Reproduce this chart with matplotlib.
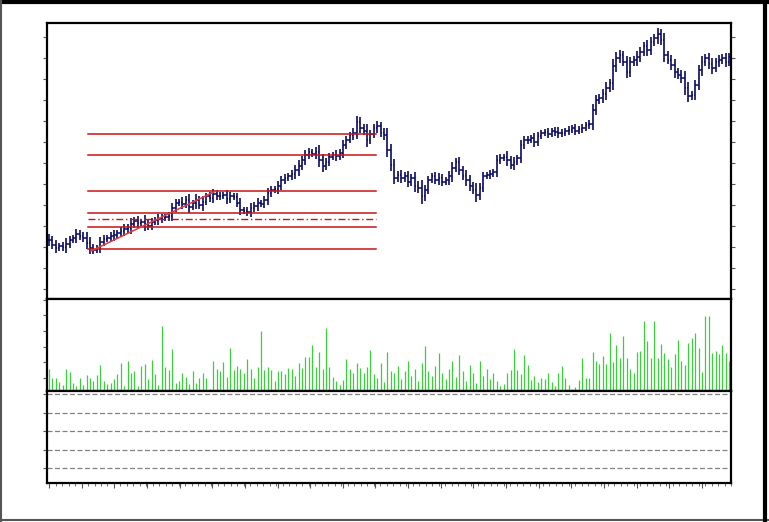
import matplotlib
matplotlib.use('Agg')
import matplotlib.pyplot as plt
from matplotlib.lines import Line2D
import numpy as np

# closing prices (one per trading day)
closes = [70, 65, 62, 64, 63, 66, 70, 72, 76, 74,
          72, 67, 62, 60, 62, 68, 71, 72, 74, 75,
          77, 79, 81, 82, 86, 89, 87, 88, 86, 84,
          88, 90, 91, 92, 93, 94, 102, 107, 108, 106,
          110, 103, 107, 110, 105, 108, 114, 112, 116, 114,
          114, 115, 111, 114, 113, 107, 100, 99, 98, 102,
          104, 107, 106, 110, 117, 120, 121, 124, 130, 132,
          134, 136, 140, 144, 150, 155, 158, 156, 158, 150,
          144, 148, 153, 155, 154, 157, 165, 170, 175, 177,
          188, 182, 179, 170, 176, 182, 184, 177, 175, 160,
          145, 132, 135, 132, 134, 128, 132, 124, 122, 114,
          120, 130, 134, 130, 132, 128, 130, 134, 142, 148,
          140, 134, 130, 124, 120, 115, 122, 134, 135, 136,
          138, 150, 152, 153, 150, 145, 148, 152, 165, 170,
          170, 172, 168, 174, 177, 178, 176, 179, 178, 177,
          177, 179, 180, 182, 179, 181, 182, 185, 186, 200,
          210, 212, 216, 222, 227, 244, 252, 255, 248, 238,
          248, 250, 253, 258, 264, 260, 268, 272, 276, 270,
          255, 250, 245, 238, 235, 232, 222, 214, 215, 225,
          240, 248, 252, 246, 242, 248, 250, 252, 248, 253]

# extra range of each bar beyond open/close
wicks = [6, 4, 5, 3, 4, 6, 4, 3, 5, 4,
         4, 6, 6, 4, 3, 5, 4, 3, 4, 5,
         3, 4, 5, 4, 6, 4, 5, 3, 7, 4,
         4, 3, 5, 4, 3, 4, 5, 4, 3, 5,
         4, 6, 3, 6, 4, 6, 3, 4, 5, 4,
         4, 3, 5, 4, 3, 4, 5, 3, 4, 5,
         4, 5, 3, 4, 5, 4, 3, 5, 4, 4,
         3, 4, 5, 6, 4, 5, 4, 3, 5, 7,
         6, 4, 4, 3, 5, 4, 5, 4, 3, 5,
         6, 5, 4, 7, 4, 4, 5, 4, 5, 7,
         6, 6, 4, 5, 4, 5, 4, 6, 5, 8,
         5, 4, 3, 4, 5, 4, 3, 5, 6, 4,
         5, 4, 6, 5, 4, 7, 5, 4, 3, 4,
         3, 5, 4, 3, 6, 4, 5, 3, 5, 4,
         4, 3, 5, 4, 3, 3, 4, 3, 4, 5,
         4, 3, 4, 3, 4, 3, 4, 3, 4, 6,
         5, 4, 5, 6, 4, 7, 6, 5, 4, 6,
         5, 4, 6, 5, 4, 6, 5, 4, 6, 5,
         7, 4, 5, 6, 4, 5, 7, 6, 4, 5,
         5, 6, 4, 5, 6, 4, 5, 4, 5, 4]

volume = [21.7, 13.3, 12.7, 8.7, 6, 21.7, 18.7, 8.3, 5, 12.7,
          6, 16, 12.7, 10, 16, 26, 10, 7, 8.3, 12,
          17, 27.7, 5, 30, 17.7, 20, 5, 25, 26.7, 12,
          31, 17, 6, 65, 24.3, 21, 41.7, 8.3, 10, 17.7,
          13.7, 7, 20, 8.3, 13.3, 18.3, 12.7, 1.7, 30, 22,
          20, 29.3, 13.7, 43.3, 21, 25, 21.7, 17.7, 32, 21.7,
          12.7, 24.3, 60, 21, 24.3, 21, 10, 20.3, 20.3, 17,
          22.7, 22, 15, 28.3, 23.3, 33.7, 34.3, 46, 24.3, 39.3,
          21.7, 63.3, 24.3, 13.7, 10, 6, 11, 32, 21.7, 18.3,
          28.3, 22.7, 17.7, 24.3, 41, 17, 12.7, 28.3, 8.7, 39.3,
          20, 18, 25, 12, 20, 30, 15, 22, 10, 28,
          45, 20, 15, 25, 38, 18, 12, 22, 30, 14,
          36, 20, 10, 26, 18, 8, 30, 15, 22, 12,
          18, 10, 5, 7, 17.7, 21, 42, 21, 17, 36,
          26, 11, 15, 9.3, 13.3, 12, 18.3, 9.3, 5, 18.3,
          25, 13.3, 6, 2, 3.7, 11, 33.3, 13.3, 13.3, 39.3,
          30.3, 27, 35, 27, 57.7, 29.3, 46, 32.7, 55, 32.7,
          22, 18.3, 39.3, 40.3, 70, 50, 32.7, 70, 32.7, 47,
          37.7, 32, 24.3, 37, 51, 30.3, 26, 48.3, 52.7, 58.3,
          42.7, 18.7, 75, 75, 38.3, 40.3, 37, 46, 38.3, 30]

# fibonacci levels drawn on the price pane
fib_levels = [61, 83, 97, 119, 155, 176]
fib_mid = 91
fib_start, fib_end = 11.4, 95.6
trend_x = [12.3, 48.8]
trend_y = [59, 119]

bar_color = '#0a0a64'
vol_color = '#3ccf3c'
fib_color = '#c81414'

n = len(closes)
x = np.arange(n)
opens = [closes[0]] + closes[:-1]
highs = [max(o, c) + w for o, c, w in zip(opens, closes, wicks)]
lows = [min(o, c) - w for o, c, w in zip(opens, closes, wicks)]

fig = plt.figure(figsize=(7.69, 5.22), dpi=100)
ax1 = fig.add_axes([0.0611, 0.4272, 0.8895, 0.5287])
ax2 = fig.add_axes([0.0611, 0.2510, 0.8895, 0.1762])
ax3 = fig.add_axes([0.0611, 0.0747, 0.8895, 0.1762])

# price bars
ax1.vlines(x, lows, highs, color=bar_color, linewidth=1.2)
ax1.hlines(opens, x - 0.45, x, color=bar_color, linewidth=1.1)
ax1.hlines(closes, x, x + 0.45, color=bar_color, linewidth=1.1)

for lev in fib_levels:
    ax1.plot([fib_start, fib_end], [lev, lev], color=fib_color, linewidth=1.1)
ax1.plot([fib_start, fib_end], [fib_mid, fib_mid], color=fib_color, linewidth=1.0,
         linestyle=(0, (5, 2, 1, 2)))
ax1.plot(trend_x, trend_y, color='#e03c3c', linewidth=1.1)

ax1.set_ylim(11, 287)
ax1.set_yticks([21 * k for k in range(1, 14)])
ax1.tick_params(axis='y', which='both', left=True, right=True, direction='out',
                length=3, color='#555555', labelleft=False)

# volume
ax2.vlines(x, 0, volume, color=vol_color, linewidth=0.9)
ax2.set_ylim(0, 92)
ax2.set_yticks([13, 29, 44, 60, 76, 91])

# empty indicator pane with dashed guides
guides = [15, 33.5, 52, 70.5, 89]
for g in guides:
    ax3.axhline(g, color='#808080', linewidth=0.9, linestyle=(0, (4, 2)))
ax3.set_ylim(0, 92)
ax3.set_yticks(guides)

major = np.arange(0, 200, 9.55)
for ax in (ax1, ax2, ax3):
    ax.set_xlim(-0.6, 199.4)
    ax.set_xticks(major)
    ax.set_xticks(np.arange(0, 200, 1.9), minor=True)
    ax.tick_params(axis='x', which='both', bottom=(ax is ax3), top=False,
                   labelbottom=False, direction='out', color='#555555')
    ax.tick_params(axis='x', which='major', length=3.5)
    ax.tick_params(axis='x', which='minor', length=2)
    ax.tick_params(axis='y', labelleft=False, direction='out', length=3,
                   color='#555555')
    for s in ax.spines.values():
        s.set_linewidth(1.6)
        s.set_color('black')

# window frame
fig.add_artist(Line2D([0, 1], [0.997, 0.997], color='black', linewidth=3, transform=fig.transFigure))
fig.add_artist(Line2D([0.001, 0.001], [0, 1], color='#555555', linewidth=1.5, transform=fig.transFigure))
fig.add_artist(Line2D([0, 1], [0.003, 0.003], color='#555555', linewidth=1.5, transform=fig.transFigure))
fig.add_artist(Line2D([0.9948, 0.9948], [0, 1], color='black', linewidth=3, transform=fig.transFigure))

fig.savefig('out.png', dpi=100)
